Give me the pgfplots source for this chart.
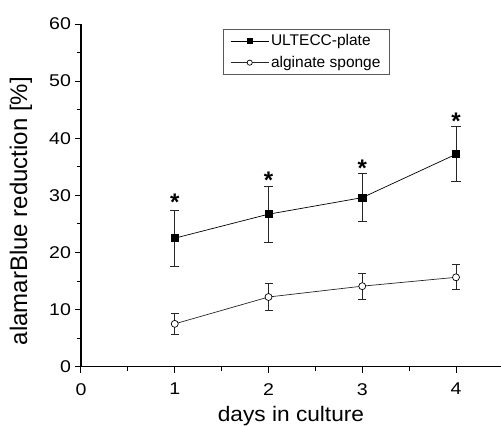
\documentclass[border=0pt]{standalone}
\usepackage{fontspec}
\setmainfont{Liberation Sans}
\usepackage{pgfplots}
\pgfplotsset{compat=1.18}
\usetikzlibrary{calc}

\newcommand{\legfont}{\fontsize{15.5}{16}\selectfont}

\begin{document}
\begin{tikzpicture}
\begin{axis}[
    scale only axis,
    width=420pt, height=342.7pt,
    xmin=0, xmax=4.48,
    ymin=0, ymax=60,
    axis x line*=bottom,
    axis y line*=left,
    axis line style={line width=1.2pt},
    tick align=outside,
    major tick length=6pt,
    minor tick length=4pt,
    every tick/.style={black, line width=1pt},
    xtick={0,1,2,3,4},
    minor xtick={0.5,1.5,2.5,3.5},
    ytick={0,10,...,60},
    minor ytick={5,15,...,55},
    /pgf/number format/assume math mode=true,
    tick label style={font=\fontsize{17}{17}\selectfont, xscale=1.15},
    xticklabel style={yshift=-7pt},
    xlabel={days in culture},
    ylabel={alamarBlue reduction [\%]},
    xlabel style={font=\fontsize{21}{21}\selectfont, xscale=1.08,
        at={(axis description cs:0.5,0)}, anchor=base, yshift=-54.5pt},
    ylabel style={font=\fontsize{24}{24}\selectfont,
        at={(axis description cs:-0.108,0.454)}, anchor=south},
    legend style={at={(axis description cs:0.338,0.985)}, anchor=north west,
        draw=gray!70!black, line width=0.8pt,
        cells={anchor=west}, row sep=5pt, inner xsep=7pt, inner ysep=3pt},
    legend image code/.code={
        \draw[mark repeat=2, mark phase=2, mark size=2.6pt]
        plot coordinates {(0pt,0pt) (19pt,0pt) (38pt,0pt)};},
]

% ULTECC-plate
\addplot[black, line width=0.7pt, mark=square*, mark size=3.6pt,
    mark options={solid, fill=black},
    error bars/.cd, y dir=both, y explicit,
    error bar style={line width=0.9pt, gray!30!black},
    error mark options={rotate=90, mark size=4.6pt, line width=0.9pt, gray!30!black}]
    coordinates {
    (1,22.5) +- (0,4.9)
    (2,26.7) +- (0,4.9)
    (3,29.6) +- (0,4.25)
    (4,37.2) +- (0,4.85)
};
\addlegendentry{\legfont ULTECC-plate}

% alginate sponge
\addplot[gray!30!black, line width=0.7pt, mark=*, mark size=3.5pt,
    mark options={solid, fill=white, draw=black},
    error bars/.cd, y dir=both, y explicit,
    error bar style={line width=0.9pt, gray!30!black},
    error mark options={rotate=90, mark size=4pt, line width=0.9pt, gray!30!black}]
    coordinates {
    (1,7.5) +- (0,1.9)
    (2,12.2) +- (0,2.3)
    (3,14.1) +- (0,2.25)
    (4,15.65) +- (0,2.2)
};
\addlegendentry{\legfont alginate sponge}

% significance stars
\addplot[draw=none, forget plot,
    nodes near coords={\bfseries *},
    every node near coord/.append style={anchor=center,
        font=\fontsize{24}{24}\selectfont, yshift=-5pt}]
    coordinates {(1,29.7) (2,33.5) (3,35.7) (4,43.9)};

\end{axis}
\pgfresetboundingbox
\path[use as bounding box] ($(current axis.south west)+(-81pt,-60.3pt)$)
    rectangle ($(current axis.north east)+(0pt,24pt)$);
\end{tikzpicture}
\end{document}
